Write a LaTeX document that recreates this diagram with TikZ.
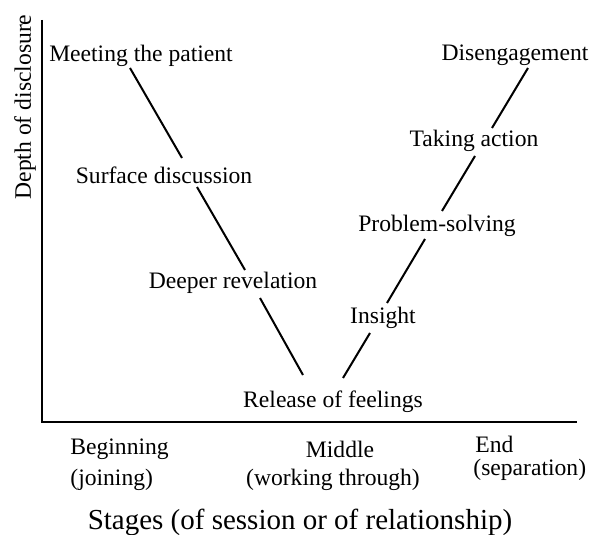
\documentclass[tikz,border=0pt]{standalone}
\usepackage{fontspec}
\setmainfont{Liberation Serif}
\usetikzlibrary{positioning, calc}

\begin{document}
\begin{tikzpicture}[
    x=0.5pt, y=-0.5pt,
    stage/.style={inner sep=0pt, anchor=center, font=\fontsize{11.8}{14}\selectfont},
    phase/.style={inner sep=0pt, anchor=west, font=\fontsize{11.8}{14}\selectfont},
    axislabel/.style={inner sep=0pt, font=\fontsize{11.8}{14}\selectfont},
    titlelabel/.style={inner sep=0pt, font=\fontsize{14.5}{17}\selectfont},
    link/.style={line width=1pt},
    axisline/.style={line width=1.4pt}
]
    \useasboundingbox (0,0) rectangle (600,535);

    % Axes
    \coordinate (origin) at (42,422);
    \coordinate (ytop) at (42,20);
    \coordinate (xend) at (577,422);
    \draw [axisline] (ytop) -- (origin) -- (xend);
    \node (depth) [axislabel, rotate=90] at (25,107) {Depth of disclosure};

    % Descending branch
    \node (meet) [stage] at (141,56) {Meeting the patient};
    \node (surf) [stage] at (164,175) {Surface discussion};
    \node (deep) [stage] at (233,283) {Deeper revelation};
    \node (rel) [stage] at (333,402) {Release of feelings};

    % Ascending branch
    \node (ins) [stage] at (383,318) {Insight};
    \node (prob) [stage] at (437,226) {Problem-solving};
    \node (take) [stage] at (474,141) {Taking action};
    \node (dis) [stage] at (515,55) {Disengagement};

    % Connectors between stages
    \draw [link] ([shift={(-11,12)}]meet.center) -- ([shift={(18,-17)}]surf.center);
    \draw [link] ([shift={(33,12)}]surf.center) -- ([shift={(12,-13)}]deep.center);
    \draw [link] ([shift={(27,15)}]deep.center) -- ([shift={(-30,-27)}]rel.center);
    \draw [link] ([shift={(10,-24)}]rel.center) -- ([shift={(-13,15)}]ins.center);
    \draw [link] ([shift={(4,-15)}]ins.center) -- ([shift={(-12,13)}]prob.center);
    \draw [link] ([shift={(5,-15)}]prob.center) -- ([shift={(1,15)}]take.center);
    \draw [link] ([shift={(18,-13)}]take.center) -- ([shift={(13,13)}]dis.center);

    % Phases along the horizontal axis
    \node (beg) [phase] at (70,449) {Beginning};
    \node (join) [phase] at (70,480) {(joining)};
    \node (mid) [stage] at (340,449) {Middle};
    \node (work) [stage] at (333,480) {(working through)};
    \node (fin) [phase] at (475,444) {End};
    \node (sep) [phase] at (473,470) {(separation)};

    % Axis title
    \node (stages) [titlelabel] at (300,522) {Stages (of session or of relationship)};
\end{tikzpicture}
\end{document}
